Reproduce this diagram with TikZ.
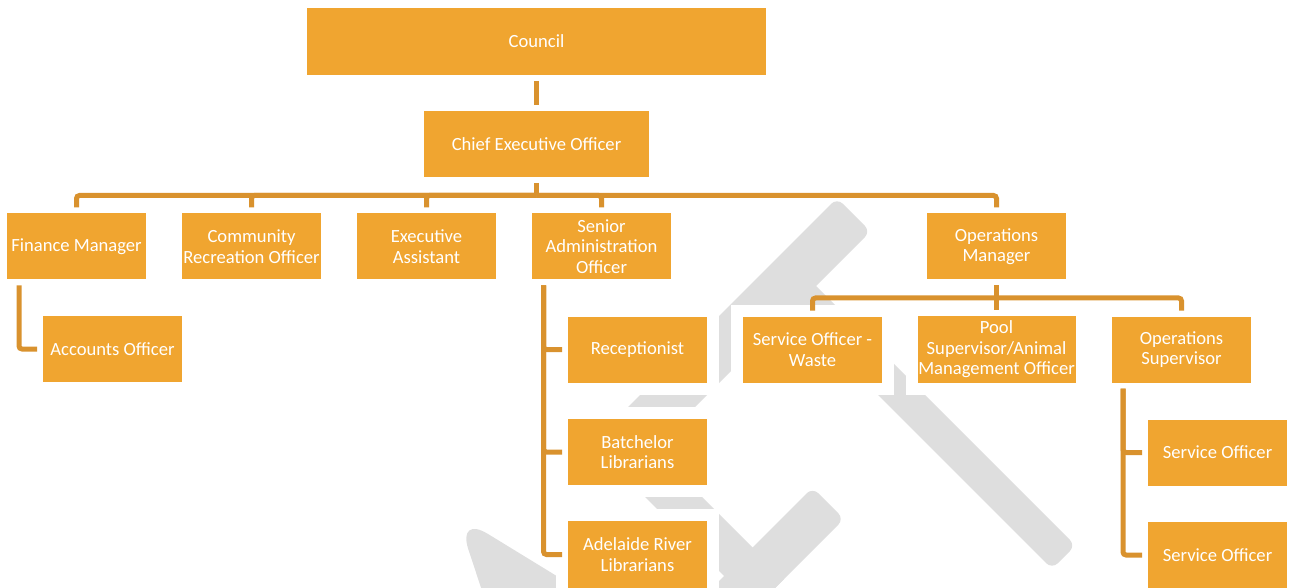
\documentclass[tikz,border=0pt]{standalone}
\usepackage{fontspec}
\setmainfont{Carlito}
\definecolor{boxfill}{RGB}{240,165,48}
\definecolor{linkfill}{RGB}{217,146,46}
\definecolor{markgray}{RGB}{222,222,222}
\tikzset{
  box/.style={fill=boxfill, draw=white, line width=6pt, outer sep=0pt, inner sep=0pt,
    text=white, align=center, minimum width=75.5pt, minimum height=39pt,
    font=\fontsize{9.3}{10.3}\selectfont},
  link/.style={draw=linkfill, line width=2.5pt, rounded corners=1.5pt},
}

\begin{document}
\begin{tikzpicture}[x=0.5pt, y=-0.5pt]
  \useasboundingbox (0,0) rectangle (1290,588);

  % grey mark in the background
  \begin{scope}
    \clip (0,0) rectangle (1290,588);
    \fill[markgray, rounded corners=4pt] (837,198) -- (870.5,231.5) -- (662,440) -- (595,440) -- cycle;
    \fill[markgray, rounded corners=4pt] (775.5,292.5) -- (799,269) -- (1075.5,545.5) -- (1052,569) -- cycle;
    \fill[markgray] (618,470) -- (675,470) -- (784,579) -- (755.5,607.5) -- cycle;
    \fill[markgray, rounded corners=4pt] (812.5,487.5) -- (844,519) -- (753,610) -- (690,610) -- cycle;
    \fill[markgray, rounded corners=18pt] (457,515) -- (640,627) -- (494,627) -- cycle;
  \end{scope}

  \node[box, minimum width=235.5pt, minimum height=39.5pt] (council) at (536.5,41.5) {Council};
  \node[box, minimum width=118.5pt] (ceo) at (536.5,144) {Chief Executive Officer};

  \node[box] (fin)  at (76.5,246.5)  {Finance Manager};
  \node[box] (crec) at (251.5,246.5) {Community\\Recreation Officer};
  \node[box] (exec) at (426.5,246.5) {Executive\\Assistant};
  \node[box] (sao)  at (601.5,246.5) {Senior\\Administration\\Officer};
  \node[box] (opm)  at (996.5,246.5) {Operations\\Manager};

  \node[box] (acc) at (112.5,349) {Accounts Officer};

  \node[box] (recep) at (637.5,349.5) {Receptionist};
  \node[box] (batch) at (637.5,452) {Batchelor\\Librarians};
  \node[box, minimum height=39.5pt] (adel) at (637.5,554.5) {Adelaide River\\Librarians};

  \node[box] (sow) at (812.5,349.5) {Service Officer -\\Waste};
  \node[box, minimum width=85pt, minimum height=39.5pt] (pool) at (996.5,349.5) {Pool\\Supervisor/Animal\\Management Officer};
  \node[box] (opsup) at (1181.5,349.5) {Operations\\Supervisor};

  \node[box] (so1) at (1217.5,452.5) {Service Officer};
  \node[box] (so2) at (1217.5,555) {Service Officer};

  % connectors
  \draw[link] (council.south) -- (ceo.north);
  \coordinate (bus) at (536.5,195.5);
  \draw[link] (ceo.south) -- (bus);
  \foreach \n in {fin,crec,exec,sao,opm}
    \draw[link] (bus) -| (\n.north);

  \coordinate (opbus) at (996.5,298);
  \draw[link] (opm.south) -- (pool.north);
  \foreach \n in {sow,opsup}
    \draw[link] (opbus) -| (\n.north);

  \draw[link] (fin.south west) ++(18,0) |- (acc.west);
  \foreach \n in {recep,batch,adel}
    \draw[link] (sao.south west) ++(17.5,0) |- (\n.west);
  \foreach \n in {so1,so2}
    \draw[link] (opsup.south west) ++(17,0) |- (\n.west);
\end{tikzpicture}
\end{document}
